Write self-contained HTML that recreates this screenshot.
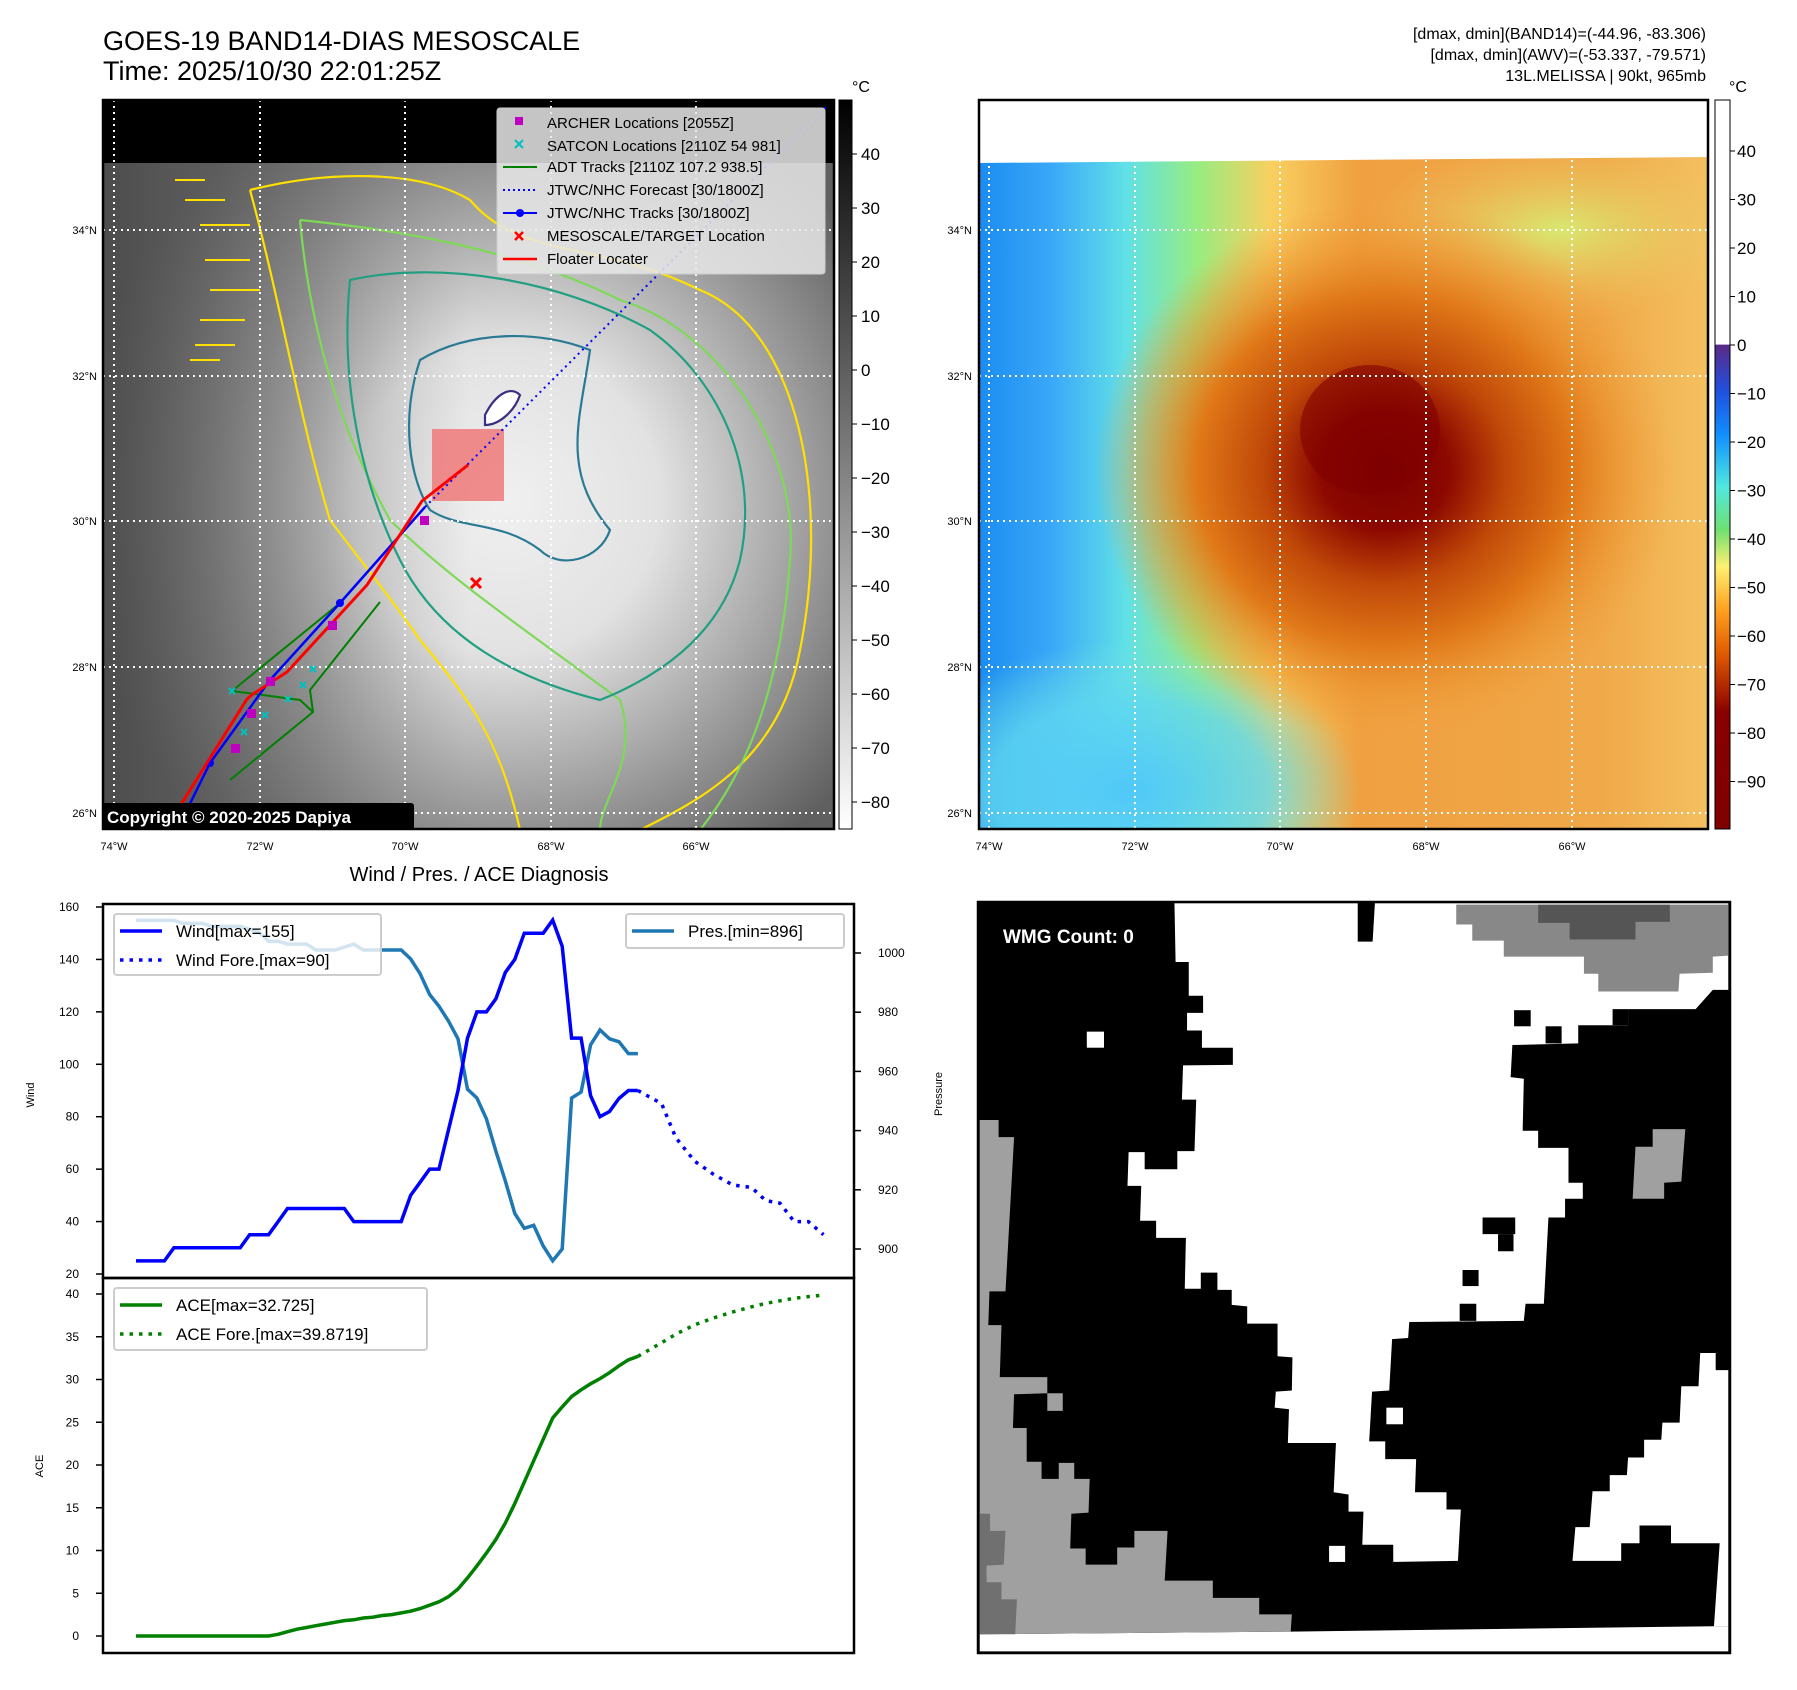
<!DOCTYPE html>
<html><head><meta charset="utf-8">
<style>
html,body{margin:0;padding:0;background:#fff;}
svg{display:block;font-family:"Liberation Sans","DejaVu Sans",sans-serif;}
</style></head>
<body>
<svg id="root" width="1797" height="1690" viewBox="0 0 1797 1690" xmlns="http://www.w3.org/2000/svg">
<defs>
  <radialGradient id="g1" cx="0.55" cy="0.55" r="0.6">
    <stop offset="0" stop-color="#f0f0f0"/><stop offset="0.35" stop-color="#e2e2e2"/>
    <stop offset="0.6" stop-color="#b0b0b0"/><stop offset="1" stop-color="#606060"/>
  </radialGradient>
  <linearGradient id="g1l" x1="0" x2="1" y1="0" y2="0">
    <stop offset="0" stop-color="#4a4a4a" stop-opacity="0.9"/><stop offset="0.3" stop-color="#6a6a6a" stop-opacity="0.4"/><stop offset="0.5" stop-color="#888" stop-opacity="0"/>
  </linearGradient>
  <linearGradient id="cb1" x1="0" x2="0" y1="0" y2="1">
    <stop offset="0" stop-color="#000"/><stop offset="1" stop-color="#fff"/>
  </linearGradient>
  <linearGradient id="cb2" x1="0" x2="0" y1="0" y2="1">
    <stop offset="0" stop-color="#fff"/><stop offset="0.335" stop-color="#fff"/>
    <stop offset="0.336" stop-color="#5a2a88"/><stop offset="0.40" stop-color="#2050e0"/>
    <stop offset="0.46" stop-color="#1090ff"/><stop offset="0.53" stop-color="#50e8e0"/>
    <stop offset="0.59" stop-color="#70e070"/><stop offset="0.64" stop-color="#fff070"/>
    <stop offset="0.70" stop-color="#ffa020"/><stop offset="0.76" stop-color="#e05a00"/>
    <stop offset="0.84" stop-color="#8a0000"/><stop offset="1" stop-color="#800000"/>
  </linearGradient>
  <linearGradient id="g2" x1="0" x2="1" y1="0" y2="0">
    <stop offset="0" stop-color="#1a8cf0"/><stop offset="0.1" stop-color="#3aa8f8"/>
    <stop offset="0.2" stop-color="#60e0e8"/><stop offset="0.3" stop-color="#98ec80"/>
    <stop offset="0.4" stop-color="#f8d060"/><stop offset="0.52" stop-color="#f0a040"/>
    <stop offset="0.85" stop-color="#f0a848"/><stop offset="1" stop-color="#f4c060"/>
  </linearGradient>
  <radialGradient id="g2r" cx="0.5" cy="0.5" r="0.5">
    <stop offset="0" stop-color="#7a0000"/><stop offset="0.22" stop-color="#8c0800"/>
    <stop offset="0.42" stop-color="#c04808"/><stop offset="0.65" stop-color="#e07818"/>
    <stop offset="0.85" stop-color="#ec9430" stop-opacity="0.5"/>
    <stop offset="1" stop-color="#f0a040" stop-opacity="0"/>
  </radialGradient>
  <radialGradient id="g2b" cx="0.5" cy="0.5" r="0.5">
    <stop offset="0" stop-color="#50c8f8"/><stop offset="0.6" stop-color="#60d8f0" stop-opacity="0.8"/><stop offset="1" stop-color="#70e0e0" stop-opacity="0"/>
  </radialGradient>
  <radialGradient id="g2y" cx="0.5" cy="0.5" r="0.5">
    <stop offset="0" stop-color="#d8e870"/><stop offset="1" stop-color="#f0c060" stop-opacity="0"/>
  </radialGradient>
  <clipPath id="c1"><rect x="103" y="100" width="731" height="729"/></clipPath>
  <clipPath id="c2"><rect x="979" y="100" width="729" height="729"/></clipPath>
</defs>

<!-- ===== Map 1 ===== -->
<text x="103" y="50" font-size="27">GOES-19 BAND14-DIAS MESOSCALE</text>
<text x="103" y="80" font-size="27">Time: 2025/10/30 22:01:25Z</text>
<g clip-path="url(#c1)">
  <rect x="103" y="100" width="731" height="729" fill="url(#g1)"/>
  <rect x="103" y="100" width="731" height="729" fill="url(#g1l)"/>
  <rect x="103" y="100" width="731" height="63" fill="#000"/>
  <g fill="none" stroke-width="2.2">
    <path d="M250 190 C330 170 420 170 470 200 C520 260 600 240 700 290 C800 330 830 500 800 650 C780 760 700 800 640 830 M250 190 C280 300 300 420 330 520 C360 560 400 610 420 640 C470 700 500 740 520 830" stroke="#ffe000"/>
    <path d="M300 220 C400 230 520 250 620 300 C720 330 800 450 790 560 C780 700 740 780 700 830 M300 220 C310 330 340 430 390 520 C450 580 540 640 620 700 C640 760 600 800 600 830" stroke="#7ed957"/>
    <path d="M350 280 C440 260 560 280 650 330 C720 380 760 470 740 560 C720 640 650 680 600 700 C520 680 440 640 400 560 C360 480 340 380 350 280Z" stroke="#20a080"/>
    <path d="M420 360 C470 330 540 330 590 350 C580 420 560 470 610 530 C600 560 560 570 540 550 C500 520 460 530 430 510 C410 480 400 420 420 360Z" stroke="#2b7a95"/>
    <path d="M485 415 C495 395 510 385 520 395 C515 410 500 425 485 425Z" stroke="#3b2f80" fill="#fff"/>
    <g stroke="#ffe000" stroke-width="2">
      <path d="M175 180 h30 M185 200 h40 M200 225 h50 M205 260 h45 M210 290 h50 M200 320 h45 M195 345 h40 M190 360 h30"/>
    </g>
  </g>
  <g stroke="#fff" stroke-width="2" stroke-dasharray="2 4">
    <line x1="114" y1="100" x2="114" y2="829"/><line x1="260" y1="100" x2="260" y2="829"/>
    <line x1="405" y1="100" x2="405" y2="829"/><line x1="551" y1="100" x2="551" y2="829"/>
    <line x1="696" y1="100" x2="696" y2="829"/>
    <line x1="103" y1="230" x2="834" y2="230"/><line x1="103" y1="376" x2="834" y2="376"/>
    <line x1="103" y1="521" x2="834" y2="521"/><line x1="103" y1="667" x2="834" y2="667"/>
    <line x1="103" y1="813" x2="834" y2="813"/>
  </g>
  <rect x="432" y="429" width="72" height="72" fill="#f08080" opacity="0.9"/>
  <polyline points="232,691 340,603 425,507" fill="none" stroke="#008000" stroke-width="2"/>
  <polyline points="230,780 313,712 310,690 380,602" fill="none" stroke="#008000" stroke-width="2"/>
  <polyline points="232,691 300,700 313,712" fill="none" stroke="#008000" stroke-width="2"/>
  <polyline points="425,507 827,106" fill="none" stroke="#0000ff" stroke-width="2" stroke-dasharray="2 4"/>
  <polyline points="177,830 210,763 270,680 340,603 425,507" fill="none" stroke="#0000ff" stroke-width="2.5"/>
  <circle cx="340" cy="603" r="4" fill="#0000ff"/><circle cx="210" cy="763" r="4" fill="#0000ff"/>
  <polyline points="165,830 247,699 253,694 287,672 367,585 422,501 468,465" fill="none" stroke="#ff0000" stroke-width="3"/>
  <g fill="#c000c0"><rect x="420" y="516" width="9" height="9"/><rect x="328" y="621" width="9" height="9"/><rect x="266" y="677" width="9" height="9"/><rect x="247" y="709" width="9" height="9"/><rect x="231" y="744" width="9" height="9"/></g>
  <g stroke="#00c0c0" stroke-width="2"><path d="M229 688l6 6m0-6l-6 6M241 729l6 6m0-6l-6 6M262 712l6 6m0-6l-6 6M285 696l6 6m0-6l-6 6M300 682l6 6m0-6l-6 6M310 666l6 6m0-6l-6 6"/></g>
  <path d="M471 578l10 10m0-10l-10 10" stroke="#ff0000" stroke-width="3"/>
</g>
<rect x="103" y="100" width="731" height="729" fill="none" stroke="#000" stroke-width="2.5"/>
<g>
  <rect x="497" y="108" width="328" height="166" fill="#e8e8e8" fill-opacity="0.85" stroke="#ccc" rx="3"/>
  <g font-size="15">
    <rect x="515" y="117" width="8" height="8" fill="#c000c0"/><text x="547" y="128">ARCHER Locations [2055Z]</text>
    <path d="M515 140l8 8m0-8l-8 8" stroke="#00c0c0" stroke-width="2"/><text x="547" y="151">SATCON Locations [2110Z 54 981]</text>
    <line x1="503" y1="167" x2="537" y2="167" stroke="#008000" stroke-width="2"/><text x="547" y="172">ADT Tracks [2110Z 107.2 938.5]</text>
    <line x1="503" y1="190" x2="537" y2="190" stroke="#0000ff" stroke-width="2" stroke-dasharray="2 3"/><text x="547" y="195">JTWC/NHC Forecast [30/1800Z]</text>
    <line x1="503" y1="213" x2="537" y2="213" stroke="#0000ff" stroke-width="2"/><circle cx="520" cy="213" r="4" fill="#0000ff"/><text x="547" y="218">JTWC/NHC Tracks [30/1800Z]</text>
    <path d="M515 232l8 8m0-8l-8 8" stroke="#ff0000" stroke-width="2.5"/><text x="547" y="241">MESOSCALE/TARGET Location</text>
    <line x1="503" y1="259" x2="537" y2="259" stroke="#ff0000" stroke-width="2.5"/><text x="547" y="264">Floater Locater</text>
  </g>
</g>
<g>
  <rect x="102" y="803" width="312" height="27" fill="#000" rx="3"/>
  <text x="107" y="823" font-size="17" font-weight="bold" fill="#fff">Copyright © 2020-2025 Dapiya</text>
</g>
<g font-size="11" text-anchor="end">
  <text x="97" y="234">34°N</text><text x="97" y="380">32°N</text><text x="97" y="525">30°N</text><text x="97" y="671">28°N</text><text x="97" y="817">26°N</text>
</g>
<g font-size="11" text-anchor="middle">
  <text x="114" y="850">74°W</text><text x="260" y="850">72°W</text><text x="405" y="850">70°W</text><text x="551" y="850">68°W</text><text x="696" y="850">66°W</text>
</g>
<g>
  <rect x="839" y="100" width="13" height="729" fill="url(#cb1)" stroke="#000" stroke-width="1"/>
  <text x="852" y="92" font-size="16">°C</text>
  <g font-size="17" id="cb1ticks"></g>
</g>

<!-- ===== Map 2 ===== -->
<g font-size="16" text-anchor="end">
  <text x="1706" y="39">[dmax, dmin](BAND14)=(-44.96, -83.306)</text>
  <text x="1706" y="60">[dmax, dmin](AWV)=(-53.337, -79.571)</text>
  <text x="1706" y="81">13L.MELISSA | 90kt, 965mb</text>
</g>
<g clip-path="url(#c2)">
  <rect x="979" y="100" width="729" height="729" fill="url(#g2)"/>
  <ellipse cx="1130" cy="790" rx="230" ry="150" fill="url(#g2b)"/>
  <ellipse cx="1560" cy="230" rx="200" ry="90" fill="url(#g2y)"/>
  <ellipse cx="1385" cy="470" rx="290" ry="270" fill="url(#g2r)"/>
  <ellipse cx="1370" cy="430" rx="70" ry="65" fill="#800000" opacity="0.6"/>
  <polygon points="979,100 1708,100 1708,157 979,163" fill="#fff"/>
  <g stroke="#fff" stroke-width="2" stroke-dasharray="2 4">
    <line x1="989" y1="100" x2="989" y2="829"/><line x1="1135" y1="100" x2="1135" y2="829"/>
    <line x1="1280" y1="100" x2="1280" y2="829"/><line x1="1426" y1="100" x2="1426" y2="829"/>
    <line x1="1572" y1="100" x2="1572" y2="829"/>
    <line x1="979" y1="230" x2="1708" y2="230"/><line x1="979" y1="376" x2="1708" y2="376"/>
    <line x1="979" y1="521" x2="1708" y2="521"/><line x1="979" y1="667" x2="1708" y2="667"/>
    <line x1="979" y1="813" x2="1708" y2="813"/>
  </g>
</g>
<rect x="979" y="100" width="729" height="729" fill="none" stroke="#000" stroke-width="2.5"/>
<g font-size="11" text-anchor="end">
  <text x="972" y="234">34°N</text><text x="972" y="380">32°N</text><text x="972" y="525">30°N</text><text x="972" y="671">28°N</text><text x="972" y="817">26°N</text>
</g>
<g font-size="11" text-anchor="middle">
  <text x="989" y="850">74°W</text><text x="1135" y="850">72°W</text><text x="1280" y="850">70°W</text><text x="1426" y="850">68°W</text><text x="1572" y="850">66°W</text>
</g>
<g>
  <rect x="1715" y="100" width="15" height="729" fill="url(#cb2)" stroke="#000" stroke-width="1"/>
  <text x="1729" y="92" font-size="16">°C</text>
  <g font-size="17" id="cb2ticks"></g>
</g>

<!-- ===== Chart ===== -->
<text x="479" y="881" font-size="20" text-anchor="middle">Wind / Pres. / ACE Diagnosis</text>
<g id="chart"></g>

<!-- ===== WMG ===== -->
<svg x="978" y="902" width="752" height="751" viewBox="137 98 1313 1402" preserveAspectRatio="none">
  <rect x="137" y="98" width="1313" height="1402" fill="#000"/>
  <polygon fill="#fff" points="480,100 800,100 800,172 826,172 830,100 1447,100 1447,262 1420,262 1390,298 1272,298 1272,328 1185,328 1185,362 1070,365 1067,425 1090,428 1088,525 1115,525 1115,557 1168,557 1168,622 1193,622 1193,652 1162,652 1162,687 1133,687 1125,848 1093,848 1090,880 890,882 888,912 860,914 855,1010 825,1012 820,1105 848,1105 848,1138 902,1138 900,1200 955,1200 955,1232 980,1232 975,1328 862,1330 862,1298 808,1298 810,1236 784,1236 784,1204 758,1200 762,1108 678,1108 680,1045 655,1042 657,1012 685,1010 686,948 660,946 660,885 607,885 607,853 580,850 580,822 555,822 555,790 526,790 526,820 498,820 500,725 448,725 448,693 420,693 422,628 398,628 400,565 428,565 428,597 485,597 485,563 515,563 518,467 493,467 495,403 582,402 582,370 528,370 528,338 502,338 502,305 530,305 530,273 505,273 505,210 482,210"/>
  <polygon fill="#fff" points="1447,972 1425,972 1425,940 1398,940 1395,1002 1365,1002 1362,1070 1332,1070 1330,1102 1300,1102 1300,1135 1272,1135 1270,1168 1240,1168 1240,1198 1210,1198 1205,1265 1180,1265 1175,1328 1260,1328 1260,1295 1292,1295 1292,1262 1347,1262 1347,1295 1432,1295 1422,1450 1447,1450"/>
  <polygon fill="#fff" points="140,1465 683,1460 1422,1450 1447,1450 1447,1497 140,1497"/>
  <polygon fill="#888" points="972,103 1447,103 1447,198 1420,200 1420,230 1362,232 1360,265 1220,265 1220,232 1195,232 1195,200 1055,200 1055,170 1000,170 1000,140 972,140"/>
  <polygon fill="#555" points="1115,103 1345,103 1345,135 1285,135 1285,168 1170,168 1170,137 1115,137"/>
  <polygon fill="#a0a0a0" points="1315,522 1372,522 1365,620 1335,622 1335,652 1280,652 1285,555 1315,555"/>
  <polygon fill="#a0a0a0" points="140,505 173,505 173,537 200,537 185,825 157,825 155,888 178,888 175,985 258,985 258,1015 200,1017 198,1080 222,1080 222,1143 248,1143 248,1175 278,1175 278,1145 305,1145 305,1175 332,1175 330,1238 300,1240 298,1305 325,1305 325,1335 380,1335 380,1303 410,1303 410,1272 468,1272 463,1365 547,1365 547,1397 628,1397 628,1428 685,1428 683,1460 140,1465"/>
  <polygon fill="#a0a0a0" points="258,1015 285,1015 285,1048 258,1048"/>
  <polygon fill="#707070" points="140,1240 158,1240 158,1272 185,1272 182,1335 152,1337 152,1368 178,1368 178,1400 205,1400 202,1465 140,1465"/>
  <g fill="#000">
    <rect x="1073" y="300" width="29" height="30"/><rect x="1018" y="687" width="57" height="31"/><rect x="1045" y="718" width="27" height="32"/>
    <rect x="983" y="785" width="28" height="30"/><rect x="978" y="848" width="29" height="32"/><rect x="1128" y="330" width="28" height="32"/><rect x="1245" y="298" width="27" height="30"/>
  </g>
  <g fill="#fff"><rect x="327" y="340" width="30" height="30"/><rect x="850" y="1042" width="29" height="31"/><rect x="750" y="1300" width="28" height="30"/></g>
</svg>
<rect x="978" y="902" width="752" height="751" fill="none" stroke="#000" stroke-width="2.5"/>
<text x="1003" y="943" font-size="19" font-weight="bold" fill="#fff">WMG Count: 0</text>
</svg>

<script>
// ---- chart data ----
const windObs = [25,25,25,25,30,30,30,30,30,30,30,30,35,35,35,40,45,45,45,45,45,45,45,40,40,40,40,40,40,50,55,60,60,75,90,110,120,120,125,135,140,150,150,150,155,145,110,110,88,80,82,87,90,90];
const presObs = [1011,1011,1011,1011,1011,1010,1010,1010,1009,1009,1009,1009,1008,1007,1004,1004,1003,1003,1003,1001,1001,1001,1002,1003,1001,1001,1001,1001,1001,998,993,986,982,977,971,954,951,944,933,923,912,907,908,901,896,900,951,953,969,974,971,970,966,966];
const aceObs = [0,0,0,0,0,0,0,0,0,0,0,0,0,0,0,0.2,0.5,0.8,1.0,1.2,1.4,1.6,1.8,1.9,2.1,2.2,2.4,2.5,2.7,2.9,3.2,3.6,4.0,4.6,5.5,6.8,8.2,9.7,11.3,13.2,15.5,18.0,20.5,23.0,25.5,26.8,28.0,28.8,29.5,30.1,30.8,31.6,32.3,32.7];
const fcSteps = [53,55.5,57,59,61,63,65,66.5,68,69.5,71,72.6];
const windFc = [90,85,72,63,58,54,53,48,47,40,40,35];
const aceFc = [32.7,34.3,35.3,36.4,37.2,37.9,38.5,38.9,39.2,39.5,39.7,39.87];
const windTicks = [20,40,60,80,100,120,140,160];
const presTicks = [900,920,940,960,980,1000];
const aceTicks = [0,5,10,15,20,25,30,35,40];
const cb1Ticks = [40,30,20,10,0,-10,-20,-30,-40,-50,-60,-70,-80];
const cb2Ticks = [40,30,20,10,0,-10,-20,-30,-40,-50,-60,-70,-80,-90];

const NS='http://www.w3.org/2000/svg';
function mk(tag, attrs, parent){const e=document.createElementNS(NS,tag);for(const k in attrs)e.setAttribute(k,attrs[k]);parent.appendChild(e);return e;}
const xs = i => 136 + 9.47*i;
const yWind = v => 907 + (160-v)*(1274-907)/140;
const yPres = p => 953 + (1000-p)*2.96;
const yAce = v => 1636 - v*(1636-1294)/40;
const fmt = v => v<0 ? '\u2212'+Math.abs(v) : String(v);

const cb1 = document.getElementById('cb1ticks');
cb1Ticks.forEach(v=>{const y=100+(50-v)*(729/135);
  const l=mk('line',{x1:852,x2:857,y1:y,y2:y,stroke:'#000'},cb1);
  
  
  const t=mk('text',{x:861,y:y+6},cb1); t.textContent=fmt(v);
  
  });
const cb2 = document.getElementById('cb2ticks');
cb2Ticks.forEach(v=>{const y=345-v*4.85;
  const l=mk('line',{x1:1730,x2:1735,y1:y,y2:y,stroke:'#000'},cb2);
  
  
  const t=mk('text',{x:1737,y:y+6},cb2); t.textContent=fmt(v);
  
  });

const ch = document.getElementById('chart');
const pts = (idx, vals, yf) => vals.map((v,i)=>xs(idx[i]).toFixed(1)+','+yf(v).toFixed(1)).join(' ');
const obsIdx = windObs.map((_,i)=>i);

let p;
p=mk('polyline',{points:pts(obsIdx,presObs,yPres),fill:'none',stroke:'#1f77b4','stroke-width':3.5},ch);


p=mk('polyline',{points:pts(obsIdx,windObs,yWind),fill:'none',stroke:'#0000ff','stroke-width':3.5},ch);


p=mk('polyline',{points:pts(fcSteps,windFc,yWind),fill:'none',stroke:'#0000ff','stroke-width':3.5,'stroke-dasharray':'3.5 6'},ch);


p=mk('polyline',{points:pts(obsIdx,aceObs,yAce),fill:'none',stroke:'#008000','stroke-width':3.5},ch);


p=mk('polyline',{points:pts(fcSteps,aceFc,yAce),fill:'none',stroke:'#008000','stroke-width':3.5,'stroke-dasharray':'3.5 6'},ch);



p=mk('rect',{x:103,y:904,width:751,height:374,fill:'none',stroke:'#000','stroke-width':2.5},ch);


p=mk('rect',{x:103,y:1278,width:751,height:375,fill:'none',stroke:'#000','stroke-width':2.5},ch);



windTicks.forEach(v=>{const y=yWind(v);
  const l=mk('line',{x1:96,x2:103,y1:y,y2:y,stroke:'#000','stroke-width':1.5},ch);
  
  
  const t=mk('text',{x:79,y:y+4,'font-size':12,'text-anchor':'end'},ch); t.textContent=v;
  
  });
presTicks.forEach(v=>{const y=yPres(v);
  const l=mk('line',{x1:854,x2:861,y1:y,y2:y,stroke:'#000','stroke-width':1.5},ch);
  
  
  const t=mk('text',{x:878,y:y+4,'font-size':12},ch); t.textContent=v;
  
  });
aceTicks.forEach(v=>{const y=yAce(v);
  const l=mk('line',{x1:96,x2:103,y1:y,y2:y,stroke:'#000','stroke-width':1.5},ch);
  
  
  const t=mk('text',{x:79,y:y+4,'font-size':12,'text-anchor':'end'},ch); t.textContent=v;
  
  });

let t;
t=mk('text',{x:0,y:0,'font-size':11,'text-anchor':'middle',transform:'translate(34,1095) rotate(-90)'},ch); t.textContent='Wind';


t=mk('text',{x:0,y:0,'font-size':11,'text-anchor':'middle',transform:'translate(43,1466) rotate(-90)'},ch); t.textContent='ACE';


t=mk('text',{x:0,y:0,'font-size':11,'text-anchor':'middle',transform:'translate(942,1094) rotate(-90)'},ch); t.textContent='Pressure';



function legend(name,x,y,w,h,items){
  const g=mk('g',{},ch);
  
  
  mk('rect',{x:x,y:y,width:w,height:h,fill:'#fff','fill-opacity':0.8,stroke:'#ccc','stroke-width':2,rx:3},g);
  items.forEach((it,i)=>{const cy=y+17+i*29;
    const a={x1:x+6,x2:x+48,y1:cy,y2:cy,stroke:it.c,'stroke-width':3.5};
    if(it.d)a['stroke-dasharray']='3.5 6';
    mk('line',a,g);
    const tt=mk('text',{x:x+62,y:cy+6,'font-size':17},g); tt.textContent=it.t;});
}
legend('wind-legend',114,914,267,61,[{c:'#0000ff',t:'Wind[max=155]'},{c:'#0000ff',t:'Wind Fore.[max=90]',d:1}]);
legend('pressure-legend',626,914,218,34,[{c:'#1f77b4',t:'Pres.[min=896]'}]);
legend('ace-legend',114,1288,313,62,[{c:'#008000',t:'ACE[max=32.725]'},{c:'#008000',t:'ACE Fore.[max=39.8719]',d:1}]);
</script>
</body></html>
